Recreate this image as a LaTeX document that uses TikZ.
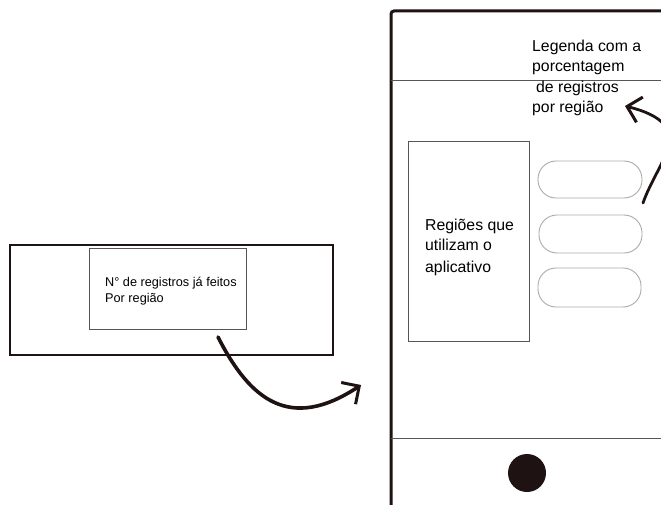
\documentclass[tikz,border=0pt]{standalone}
\usepackage{fontspec}
\setmainfont{Liberation Sans}
\usetikzlibrary{arrows.meta}
\definecolor{ink}{RGB}{30,18,18}
\definecolor{thin}{RGB}{90,85,85}
\definecolor{pillc}{RGB}{170,170,170}
\tikzset{
  frame/.style={draw=ink, line width=2pt},
  box/.style={draw=thin, line width=1.2pt},
  pill/.style={draw=pillc, line width=0.9pt, rounded corners=18pt},
  sep/.style={draw=thin, line width=1pt},
  ln/.style={anchor=base west, inner sep=0pt, text=black},
  big/.style={ln, font=\fontsize{15.8}{19}\selectfont},
  small/.style={ln, font=\fontsize{12.7}{15}\selectfont},
  hand/.style={draw=ink, line cap=round, -{Straight Barb[length=13pt,width=26pt,line width=3pt]}}
}
\begin{document}
\begin{tikzpicture}[x=1pt,y=-1pt]
\useasboundingbox (0,0) rectangle (661,505);
\clip (0,0) rectangle (661,505);
\fill[white] (0,0) rectangle (661,505);
% left screen
\draw[frame] (10,245) rectangle (333,355);
\node[box, minimum width=157pt, minimum height=81pt, anchor=north west, inner sep=0pt] (inner) at (89,248) {};
\node[small] (t1) at (105,286) {N° de registros já feitos};
\node[small] (t2) at (105,302) {Por região};
% phone
\draw[draw=ink, line width=3pt, rounded corners=3pt] (391,520) -- (391,11) -- (680,11);
\draw[sep] (391,81) -- (680,81);
\draw[sep] (391,438) -- (680,438);
\node[circle, fill=ink, minimum size=38pt, inner sep=0pt] (btn) at (527,473) {};
\node[big] (l1) at (532,52) {Legenda com a};
\node[big] (l2) at (532,72) {porcentagem};
\node[big] (l3) at (536,93) {de registros};
\node[big] (l4) at (532,113) {por região};
\node[box, minimum width=121pt, minimum height=200pt, anchor=north west, inner sep=0pt] (reg) at (408,141) {};
\node[big] (r1) at (425,230) {Regiões que};
\node[big] (r2) at (425,251) {utilizam o};
\node[big] (r3) at (425,272) {aplicativo};
\draw[pill] (538,161) rectangle (642,198);
\draw[pill] (539,215) rectangle (642,253);
\draw[pill] (538,268) rectangle (641,307);
% arrows
\coordinate (a0) at (218,337);
\coordinate (a1) at (361,385);
\draw[hand, line width=3.6pt] (a0) .. controls (250,400) and (290,432) .. (a1);
\coordinate (b0) at (643,203);
\coordinate (b1) at (625,106);
\draw[hand, line width=2.8pt] (b0) .. controls (658,160) and (700,125) .. (b1);
\end{tikzpicture}
\end{document}
